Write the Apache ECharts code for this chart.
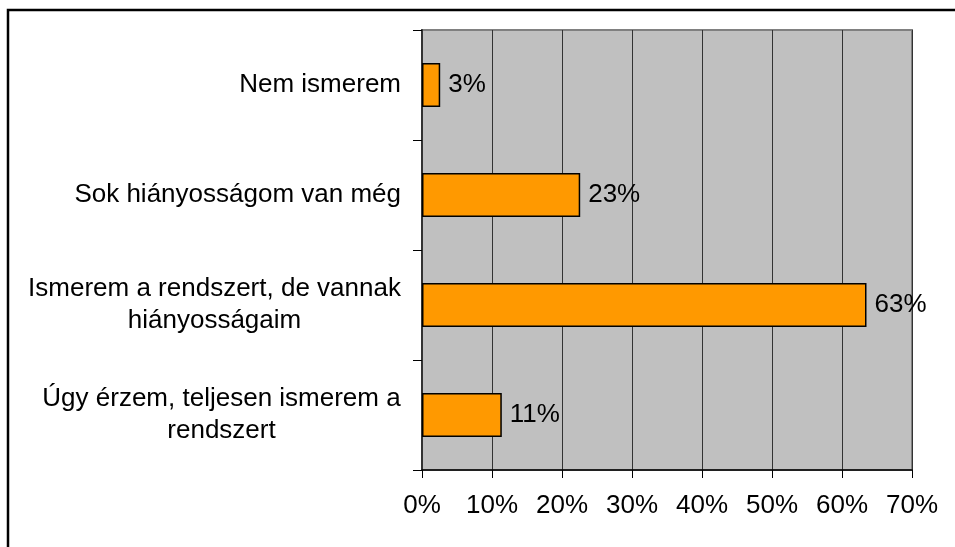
<!DOCTYPE html>
<html>
<head>
<meta charset="utf-8">
<script src="https://cdn.jsdelivr.net/npm/echarts@6/dist/echarts.min.js"></script>
<style>
  html, body { margin: 0; padding: 0; background: #fff; }
  #chart { width: 955px; height: 547px; }
</style>
</head>
<body>
<div id="chart"></div>
<script>
  // kategóriák (felülről lefelé)
  var categories = [
    'Nem ismerem',
    'Sok hiányosságom van még',
    'Ismerem a rendszert, de vannak\nhiányosságaim',
    'Úgy érzem, teljesen ismerem a\nrendszert'
  ];
  var values = [2.6, 22.6, 63.5, 11.4];
  var valueLabels = ['3%', '23%', '63%', '11%'];
  var xTicks = [0, 10, 20, 30, 40, 50, 60, 70];

  var FONT = 'Liberation Sans, Arial, sans-serif';
  var FSIZE = 26;

  // szélesség mérése a többsoros feliratok középre igazításához
  var ctx = document.createElement('canvas').getContext('2d');
  ctx.font = FSIZE + 'px ' + FONT;
  function maxWidth(lines) {
    var w = 0;
    lines.forEach(function (l) { w = Math.max(w, ctx.measureText(l).width); });
    return Math.ceil(w);
  }

  var rich = {};
  categories.forEach(function (c, i) {
    rich['c' + i] = {
      width: maxWidth(c.split('\n')),
      align: 'center',
      fontSize: FSIZE,
      fontFamily: FONT,
      color: '#000',
      lineHeight: 32
    };
  });

  var dom = document.getElementById('chart');
  var myChart = echarts.init(dom, null, { renderer: 'canvas' });
  var option = {
    animation: false,
    backgroundColor: '#fff',
    graphic: [{
      type: 'rect',
      shape: { x: 8, y: 10, width: 1200, height: 1200 },
      style: { fill: 'none', stroke: '#000', lineWidth: 2.5 },
      z: 100
    }],
    grid: {
      left: 422, right: 43, top: 30, bottom: 77,
      show: true,
      backgroundColor: '#C0C0C0',
      borderColor: '#808080',
      borderWidth: 2
    },
    xAxis: {
      type: 'value',
      min: 0, max: 70, interval: 10,
      axisLine: { show: true, lineStyle: { color: '#000', width: 1.5 } },
      axisTick: { show: true, length: 8, lineStyle: { color: '#000' } },
      splitLine: { show: true, lineStyle: { color: '#333', width: 1 } },
      axisLabel: {
        margin: 23,
        fontSize: FSIZE, fontFamily: FONT, color: '#000',
        formatter: function (v) { return xTicks.indexOf(v) >= 0 ? v + '%' : ''; }
      }
    },
    yAxis: {
      type: 'category',
      inverse: true,
      data: categories,
      axisLine: { show: true, lineStyle: { color: '#333', width: 2 } },
      axisTick: { show: true, length: 9, lineStyle: { color: '#000' } },
      axisLabel: {
        margin: 21,
        align: 'right',
        fontSize: FSIZE, fontFamily: FONT, color: '#000',
        lineHeight: 32,
        rich: rich,
        formatter: function (v) {
          var i = categories.indexOf(v);
          if (v.indexOf('\n') < 0) return v;
          return v.split('\n').map(function (l) { return '{c' + i + '|' + l + '}'; }).join('\n');
        }
      }
    },
    series: [{
      type: 'bar',
      data: values,
      barWidth: 44,
      itemStyle: { color: '#FF9900', borderColor: '#000', borderWidth: 1.5 },
      label: {
        show: true,
        position: 'right',
        distance: 8,
        fontSize: FSIZE, fontFamily: FONT, color: '#000',
        formatter: function (p) { return valueLabels[p.dataIndex]; }
      }
    }]
  };
  myChart.setOption(option);
  window.addEventListener('resize', myChart.resize);
</script>
</body>
</html>
